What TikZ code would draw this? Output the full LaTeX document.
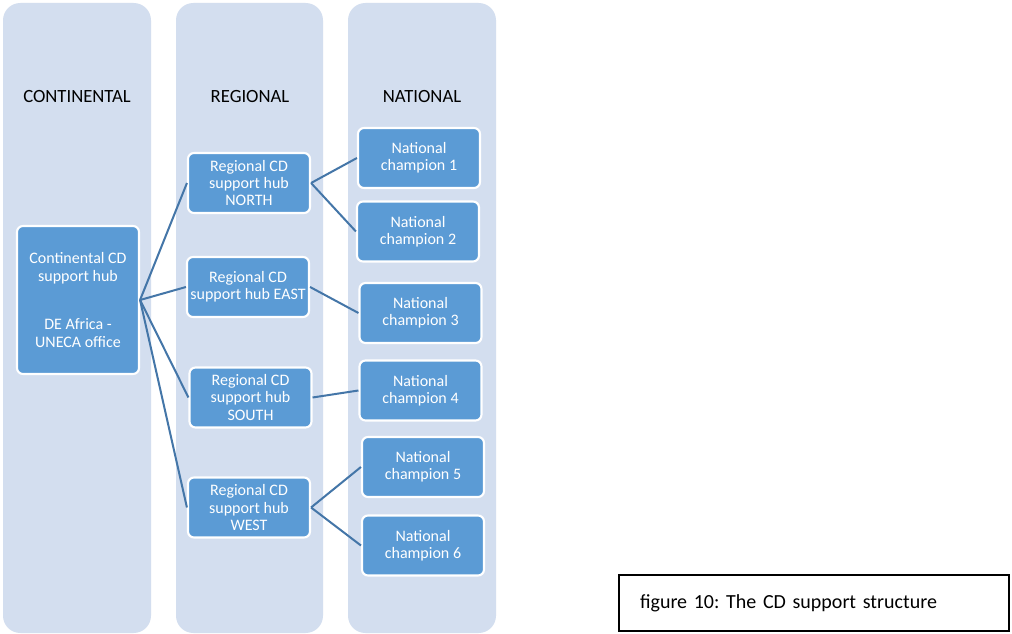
\documentclass[tikz,border=0pt]{standalone}
\usepackage{fontspec}
\setmainfont{Carlito}
\frenchspacing
\begin{document}
\begin{tikzpicture}[x=0.75pt,y=-0.75pt,
  lane/.style={fill=laneblue,rounded corners=13pt},
  header/.style={font=\fontsize{14}{16}\selectfont,text=black},
  hub/.style={draw=white,line width=1.6pt,fill=hubblue,rounded corners=4.5pt,
    minimum width=91.5pt,minimum height=45pt,inner sep=0pt,align=center,
    text=white,font=\fontsize{12}{13}\selectfont},
  link/.style={draw=linkblue,line width=1.5pt}]
\definecolor{laneblue}{HTML}{D3DEEF}
\definecolor{hubblue}{HTML}{5B9BD5}
\definecolor{linkblue}{HTML}{4476A8}
\useasboundingbox (0,0) rectangle (1012,634);
\fill[white] (0,0) rectangle (1012,634);

% three level lanes
\fill[lane] (3,3) rectangle (151,633);
\fill[lane] (176,3) rectangle (323,633);
\fill[lane] (348,3) rectangle (496,633);

\node[header] (hcont) at (77,97) {CONTINENTAL};
\node[header] (hreg) at (250,97) {REGIONAL};
\node[header] (hnat) at (422,97) {NATIONAL};

% continental hub
\node[hub,minimum height=111pt] (cont) at (78,300)
  {Continental CD\\support hub\\[23.5pt]DE Africa -\\UNECA office};

% regional hubs
\node[hub] (north) at (249,183) {Regional CD\\support hub\\NORTH};
\node[hub] (east) at (248,287) {Regional CD\\support hub EAST};
\node[hub] (south) at (250.5,397.5) {Regional CD\\support hub\\SOUTH};
\node[hub] (west) at (249,507.5) {Regional CD\\support hub\\WEST};

% national champions
\node[hub] (nc1) at (419,158) {National\\champion 1};
\node[hub] (nc2) at (418,231.5) {National\\champion 2};
\node[hub] (nc3) at (420.5,313) {National\\champion 3};
\node[hub] (nc4) at (420.5,390.5) {National\\champion 4};
\node[hub] (nc5) at (423,467) {National\\champion 5};
\node[hub] (nc6) at (423,545.5) {National\\champion 6};

% links
\foreach \r in {north,east,south,west}
  \draw[link] (cont.east) -- (\r.west);
\draw[link] (north.east) -- (nc1.west);
\draw[link] (north.east) -- (nc2.west);
\draw[link] (east.east) -- (nc3.west);
\draw[link] (south.east) -- (nc4.west);
\draw[link] (west.east) -- (nc5.west);
\draw[link] (west.east) -- (nc6.west);

% caption
\node[draw=black,line width=1.2pt,minimum width=292.5pt,minimum height=42pt,
  inner sep=0pt,text width=261pt,align=left,font=\fontsize{15}{17}\selectfont]
  (caption) at (814,603) {figure 10: The CD support structure};
\end{tikzpicture}
\end{document}
